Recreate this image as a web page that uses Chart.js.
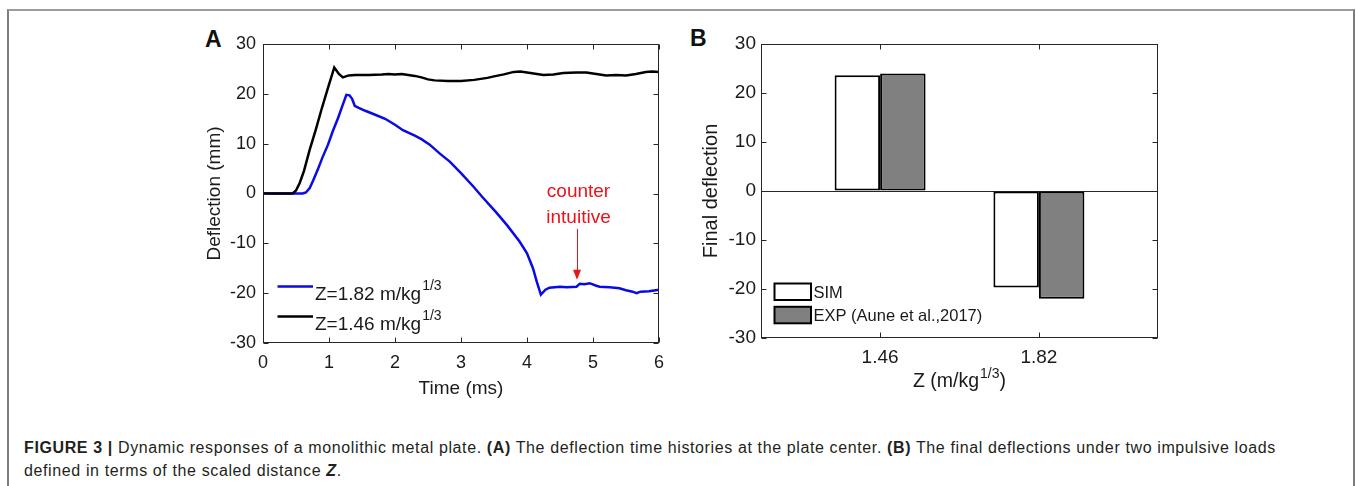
<!DOCTYPE html>
<html>
<head>
<meta charset="utf-8">
<script src="https://cdn.jsdelivr.net/npm/chart.js@4.4.1/dist/chart.umd.min.js"></script>
<style>
html,body{margin:0;padding:0;background:#fff;width:1356px;height:486px;overflow:hidden;}
#frame{position:absolute;left:7px;top:9px;width:1344px;height:490px;border-top:2px solid #9c9c9c;border-left:2px solid #7c7c7c;border-right:2px solid #7c7c7c;}
.panel{position:absolute;font-family:"Liberation Sans",Arial,sans-serif;font-weight:bold;font-size:23px;line-height:23px;color:#111;}
#capt{position:absolute;left:24px;top:436px;width:1320px;font-family:"Liberation Sans",Arial,sans-serif;font-size:16px;letter-spacing:0.62px;line-height:23px;color:#231f20;white-space:nowrap;}
canvas{position:absolute;}
</style>
</head>
<body>
<div id="frame"></div>
<div class="panel" style="left:205px;top:28px">A</div>
<div class="panel" style="left:690px;top:27px">B</div>
<canvas id="ca" width="500" height="390" style="left:180px;top:15px"></canvas>
<canvas id="cb" width="500" height="390" style="left:680px;top:15px"></canvas>
<div id="capt"><b>FIGURE 3 |</b> Dynamic responses of a monolithic metal plate. <b>(A)</b> The deflection time histories at the plate center. <b>(B)</b> The final deflections under two impulsive loads<br>defined in terms of the scaled distance <b><i>Z</i></b>.</div>
<script>
// ---------- Panel A data ----------
const timeZ182 = [0,0.6,0.65,0.708,0.76,0.83,0.9,0.985,1.06,1.136,1.2,1.263,1.31,1.35,1.39,1.45,1.55,1.7,1.85,2.0,2.12,2.3,2.4,2.526,2.68,2.83,3.0,3.18,3.33,3.54,3.7,3.89,4.0,4.09,4.15,4.21,4.28,4.34,4.5,4.6,4.75,4.8,4.87,4.95,5.05,5.1,5.25,5.4,5.5,5.6,5.66,5.72,5.85,5.95,6.0];
const deflZ182 = [0,0,0.2,1.1,2.6,4.8,7.2,9.8,12.6,15.1,17.5,19.8,19.7,19.0,17.6,17.2,16.6,15.8,15.0,13.8,12.7,11.6,10.9,9.8,8.0,6.4,4.1,1.5,-0.8,-3.9,-6.4,-9.7,-12.0,-15.0,-17.8,-20.3,-19.3,-18.9,-18.7,-18.8,-18.7,-18.1,-18.2,-18.0,-18.5,-18.7,-18.8,-19.0,-19.4,-19.7,-20.0,-19.7,-19.6,-19.4,-19.3];
const timeZ146 = [0,0.45,0.5,0.556,0.62,0.708,0.8,0.885,0.98,1.08,1.15,1.21,1.3,1.4,1.6,1.8,1.9,2.0,2.1,2.2,2.3,2.4,2.5,2.6,2.8,3.0,3.2,3.4,3.5,3.65,3.8,3.9,4.0,4.1,4.25,4.4,4.55,4.75,4.9,5.05,5.2,5.35,5.5,5.65,5.8,5.9,6.0];
const deflZ146 = [0,0,0.6,2.1,4.5,8.8,12.8,16.8,21.0,25.3,24.0,23.3,23.7,23.8,23.8,23.9,24.0,23.9,24.0,23.8,23.6,23.3,22.9,22.7,22.6,22.6,22.8,23.2,23.5,23.9,24.4,24.5,24.3,24.1,23.8,23.9,24.2,24.3,24.3,24.0,23.7,23.8,23.7,24.0,24.4,24.5,24.4];
const legendLabelsA = ['Z=1.82 m/kg', 'Z=1.46 m/kg'];
const unitSup = '1/3';
const xTicksA = [0,1,2,3,4,5,6];
const yTicks = [-30,-20,-10,0,10,20,30];
const annotationLines = ['counter', 'intuitive'];
// annotation anchor in data units (time, deflection)
const annoX = 4.75, annoTextY = [-0.7, -5.9], annoArrow = [-7.1, -17.3];

// ---------- Panel B data ----------
const zCategories = ['1.46', '1.82'];
const simFinal = [23.6, -19.7];
const expFinal = [24.0, -22.0];
const legendLabelsB = ['SIM', 'EXP (Aune et al.,2017)'];
const xTitleB = ['Z (m/kg', '1/3', ')'];

const FONT = '"Liberation Sans", Arial, sans-serif';
const AX = '#262626';

function toXY(xs, ys){ return xs.map((x,i)=>({x:x, y:ys[i]})); }

const boxTicks = {
  id:'boxTicks',
  afterDatasetsDraw(chart){
    const {ctx, chartArea:a, scales} = chart;
    ctx.save();
    ctx.strokeStyle = AX; ctx.lineWidth = 1;
    const L = Math.round(a.left)+0.5, R = Math.round(a.right)-0.5, T = Math.round(a.top)+0.5, B = Math.round(a.bottom)-0.5;
    ctx.beginPath();
    scales.x.ticks.forEach(t=>{
      const p = Math.round(scales.x.getPixelForValue(t.value))+0.5;
      ctx.moveTo(p,B); ctx.lineTo(p,B-5);
      ctx.moveTo(p,T); ctx.lineTo(p,T+5);
    });
    scales.y.ticks.forEach(t=>{
      const p = Math.round(scales.y.getPixelForValue(t.value))+0.5;
      ctx.moveTo(L,p); ctx.lineTo(L+5,p);
      ctx.moveTo(R,p); ctx.lineTo(R-5,p);
    });
    ctx.stroke();
    ctx.strokeRect(L,T,R-L,B-T);
    ctx.restore();
  }
};

function fixSize(prop, v){ return function(s){ s[prop] = v; }; }

// ---------- Chart A ----------
const legendA = {
  id:'legendA',
  afterDraw(chart){
    const {ctx, chartArea:a} = chart;
    ctx.save();
    chart.data.datasets.forEach((d,i)=>{
      const ly = a.bottom - 56.5 + i*30;
      ctx.strokeStyle = d.borderColor; ctx.lineWidth = d.borderWidth;
      ctx.beginPath(); ctx.moveTo(a.left+14.5, ly); ctx.lineTo(a.left+50, ly); ctx.stroke();
      ctx.fillStyle = '#1a1a1a'; ctx.textAlign='left'; ctx.textBaseline='alphabetic';
      ctx.font = '19px ' + FONT;
      const tx = a.left + 52, by = ly + 13.3;
      ctx.fillText(d.label, tx, by);
      const w = ctx.measureText(d.label).width;
      ctx.font = '14px ' + FONT;
      ctx.fillText(unitSup, tx + w + 1, by - 10);
    });
    // annotation
    const xs = chart.scales.x, ys = chart.scales.y;
    const px = xs.getPixelForValue(annoX);
    ctx.fillStyle = '#e8141a'; ctx.strokeStyle = '#e8141a';
    ctx.font = '19px ' + FONT; ctx.textAlign = 'center'; ctx.textBaseline='alphabetic';
    annotationLines.forEach((s,i)=>ctx.fillText(s, px+2, ys.getPixelForValue(annoTextY[i])));
    const y0 = ys.getPixelForValue(annoArrow[0]), y1 = ys.getPixelForValue(annoArrow[1]);
    ctx.lineWidth = 1;
    ctx.beginPath(); ctx.moveTo(Math.round(px)+0.5, y0); ctx.lineTo(Math.round(px)+0.5, y1-8); ctx.stroke();
    ctx.beginPath(); ctx.moveTo(px+0.5, y1); ctx.lineTo(px-3.5, y1-10); ctx.lineTo(px+4.5, y1-10); ctx.closePath(); ctx.fill();
    ctx.restore();
  }
};

new Chart(document.getElementById('ca'), {
  type:'line',
  data:{ datasets:[
    { label:legendLabelsA[0], data:toXY(timeZ182, deflZ182), borderColor:'#0a0ae6', borderWidth:2.5, pointRadius:0, tension:0, order:1 },
    { label:legendLabelsA[1], data:toXY(timeZ146, deflZ146), borderColor:'#000000', borderWidth:2.5, pointRadius:0, tension:0, order:0 }
  ]},
  options:{
    responsive:false, animation:false, devicePixelRatio:1,
    layout:{ padding:{ left:0, top:29, right:21, bottom:0 } },
    plugins:{ legend:{display:false}, tooltip:{enabled:false} },
    scales:{
      x:{ type:'linear', min:0, max:6,
        afterBuildTicks:s=>{ s.ticks = xTicksA.map(v=>({value:v})); },
        afterFit:fixSize('height', 62),
        grid:{display:false, drawTicks:false}, border:{display:false},
        ticks:{ padding:9, color:'#1a1a1a', font:{family:FONT, size:18}, maxRotation:0, autoSkip:false },
        title:{ display:true, text:'Time (ms)', color:'#1a1a1a', font:{family:FONT, size:19}, padding:{top:0, bottom:5} }
      },
      y:{ min:-30, max:30,
        afterBuildTicks:s=>{ s.ticks = yTicks.map(v=>({value:v})); },
        afterFit:fixSize('width', 83),
        grid:{display:false, drawTicks:false}, border:{display:false},
        ticks:{ padding:7, color:'#1a1a1a', font:{family:FONT, size:18} },
        title:{ display:true, text:'Deflection (mm)', color:'#1a1a1a', font:{family:FONT, size:19}, padding:{top:23.5, bottom:0} }
      }
    }
  },
  plugins:[boxTicks, legendA]
});

// ---------- Chart B ----------
const legendB = {
  id:'legendB',
  afterDraw(chart){
    const {ctx, chartArea:a} = chart;
    ctx.save();
    chart.data.datasets.forEach((d,i)=>{
      const top = a.bottom - 54.5 + i*23.3;
      ctx.fillStyle = d.backgroundColor;
      ctx.fillRect(a.left+13.5, top, 36.5, 16.5);
      ctx.strokeStyle = '#000'; ctx.lineWidth = 2;
      ctx.strokeRect(a.left+13.5, top, 36.5, 16.5);
      ctx.fillStyle = '#1a1a1a'; ctx.font = '16.5px ' + FONT;
      ctx.textAlign='left'; ctx.textBaseline='middle';
      ctx.fillText(d.label, a.left+52.5, top + 9.5);
    });
    // x title with superscript
    const cx = (a.left + a.right)/2, by = 372;
    ctx.font = '19.5px ' + FONT; const w0 = ctx.measureText(xTitleB[0]).width, w2 = ctx.measureText(xTitleB[2]).width;
    ctx.font = '14px ' + FONT; const w1 = ctx.measureText(xTitleB[1]).width;
    let x = cx - (w0 + w1 + w2 + 1)/2;
    ctx.textAlign='left'; ctx.textBaseline='alphabetic'; ctx.fillStyle='#1a1a1a';
    ctx.font = '19.5px ' + FONT; ctx.fillText(xTitleB[0], x, by);
    ctx.font = '14px ' + FONT; ctx.fillText(xTitleB[1], x + w0 + 1, by - 9);
    ctx.font = '19.5px ' + FONT; ctx.fillText(xTitleB[2], x + w0 + w1 + 1, by);
    ctx.restore();
  }
};

new Chart(document.getElementById('cb'), {
  type:'bar',
  data:{ datasets:[
    { label:legendLabelsB[0], data:zCategories.map((c,i)=>({x:i+1, y:simFinal[i]})), backgroundColor:'#ffffff', borderColor:'#000', borderWidth:2, borderSkipped:false, categoryPercentage:0.573, barPercentage:1 },
    { label:legendLabelsB[1], data:zCategories.map((c,i)=>({x:i+1, y:expFinal[i]})), backgroundColor:'#808080', borderColor:'#000', borderWidth:2, borderSkipped:false, categoryPercentage:0.573, barPercentage:1 }
  ]},
  options:{
    responsive:false, animation:false, devicePixelRatio:1,
    layout:{ padding:{ left:0, top:29, right:22, bottom:0 } },
    plugins:{ legend:{display:false}, tooltip:{enabled:false} },
    scales:{
      x:{ type:'linear', min:0.25, max:2.75, offset:false,
        afterBuildTicks:s=>{ s.ticks = zCategories.map((c,i)=>({value:i+1})); },
        afterFit:fixSize('height', 67),
        grid:{display:false, drawTicks:false, offset:false}, border:{display:false},
        ticks:{ padding:8, color:'#1a1a1a', font:{family:FONT, size:19}, maxRotation:0, autoSkip:false,
          callback:(v)=>zCategories[Math.round(v)-1] }
      },
      y:{ min:-30, max:30,
        afterBuildTicks:s=>{ s.ticks = yTicks.map(v=>({value:v})); },
        afterFit:fixSize('width', 81),
        grid:{display:true, drawTicks:false, color:c=>(c.tick && c.tick.value===0) ? AX : 'rgba(0,0,0,0)', lineWidth:1}, border:{display:false},
        ticks:{ padding:5, color:'#1a1a1a', font:{family:FONT, size:19} },
        title:{ display:true, text:'Final deflection', color:'#1a1a1a', font:{family:FONT, size:20}, padding:{top:19.5, bottom:0} }
      }
    }
  },
  plugins:[boxTicks, legendB]
});
</script>
</body>
</html>
